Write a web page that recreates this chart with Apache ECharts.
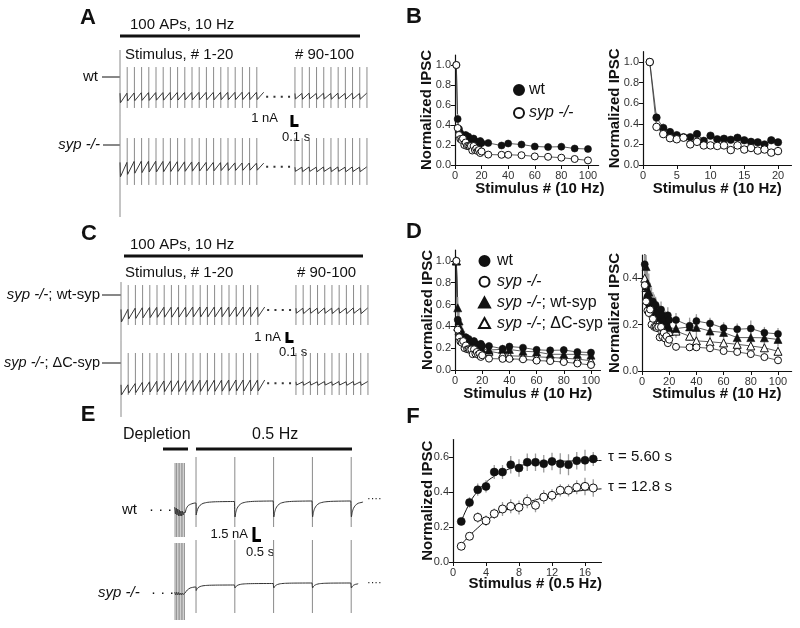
<!DOCTYPE html>
<html><head><meta charset="utf-8">
<script src="https://cdn.jsdelivr.net/npm/echarts@6/dist/echarts.min.js"></script>
<style>html,body{margin:0;padding:0;background:#fff}#c{width:800px;height:628px}</style>
</head><body><div id="c"></div>
<script>
// ================= DATA =================
// Panels B & D: normalized IPSC vs stimulus number (10 Hz train)
const stimX = [1,2,3,4,5,6,7,8,9,10,11,12,13,14,15,16,17,18,19,20,25,35,40,50,60,70,80,90,100];
const wtVals = [1.0,0.46,0.36,0.32,0.29,0.27,0.27,0.30,0.235,0.285,0.25,0.255,0.245,0.265,0.24,0.225,0.22,0.20,0.24,0.22,0.22,0.195,0.215,0.205,0.185,0.18,0.183,0.165,0.16];
const wtErr  = [0,0.05,0.04,0.04,0.035,0.03,0.03,0.035,0.03,0.03,0.03,0.03,0.03,0.035,0.03,0.03,0.03,0.03,0.035,0.03,0.03,0.025,0.03,0.025,0.025,0.025,0.035,0.025,0.025];
const sypVals = [1.0,0.37,0.30,0.26,0.25,0.265,0.20,0.225,0.19,0.19,0.185,0.19,0.145,0.19,0.15,0.165,0.14,0.15,0.12,0.135,0.104,0.102,0.102,0.098,0.086,0.082,0.073,0.06,0.046];
const sypErr  = [0,0.03,0.025,0.02,0.02,0.02,0.02,0.02,0.02,0.015,0.015,0.015,0.015,0.015,0.015,0.015,0.015,0.015,0.015,0.015,0.012,0.012,0.012,0.012,0.012,0.012,0.012,0.012,0.012];
const wtSypVals = [1.0,0.57,0.45,0.38,0.34,0.31,0.29,0.28,0.27,0.26,0.25,0.24,0.235,0.23,0.22,0.215,0.21,0.20,0.195,0.186,0.183,0.19,0.188,0.172,0.166,0.144,0.144,0.143,0.136];
const wtSypErr  = [0,0.1,0.1,0.09,0.08,0.07,0.07,0.06,0.06,0.06,0.05,0.05,0.05,0.05,0.05,0.05,0.05,0.05,0.05,0.05,0.04,0.04,0.05,0.04,0.04,0.04,0.05,0.04,0.03];
const dcSypVals = [1.0,0.40,0.36,0.33,0.31,0.29,0.28,0.27,0.26,0.25,0.24,0.23,0.22,0.21,0.20,0.19,0.185,0.18,0.175,0.17,0.172,0.15,0.13,0.126,0.121,0.115,0.108,0.10,0.085];
const dcSypErr  = [0,0.05,0.05,0.04,0.04,0.04,0.035,0.035,0.03,0.03,0.03,0.03,0.03,0.03,0.03,0.03,0.03,0.03,0.03,0.03,0.02,0.02,0.02,0.02,0.02,0.02,0.02,0.02,0.02];

// Panel F: recovery at 0.5 Hz
const recX = [1,2,3,4,5,6,7,8,9,10,11,12,13,14,15,16,17];
const recWt = [0.232,0.34,0.413,0.432,0.514,0.514,0.556,0.537,0.57,0.57,0.562,0.575,0.562,0.556,0.579,0.581,0.589];
const recWtErr = [0.02,0.03,0.035,0.035,0.04,0.04,0.05,0.05,0.05,0.05,0.05,0.05,0.06,0.06,0.05,0.06,0.04];
const recSyp = [0.09,0.147,0.255,0.236,0.276,0.303,0.318,0.312,0.347,0.324,0.371,0.381,0.41,0.41,0.427,0.432,0.423];
const recSypErr = [0.02,0.02,0.03,0.03,0.03,0.04,0.04,0.04,0.04,0.04,0.04,0.035,0.035,0.035,0.04,0.05,0.05];
const fitX = [1,2,3,4,5,6,7,8,9,10,12,14,16,18];
const fitWt = [0.232,0.335,0.405,0.455,0.49,0.515,0.535,0.55,0.558,0.565,0.573,0.577,0.579,0.58];
const fitSyp = [0.10,0.15,0.195,0.235,0.265,0.29,0.305,0.32,0.34,0.355,0.38,0.398,0.41,0.418];
const tauLabels = ['\u03c4 = 5.60 s', '\u03c4 = 12.8 s'];

// Tick values
const ticksX100 = [0,20,40,60,80,100];
const ticksX20 = [0,5,10,15,20];
const ticksX16 = [0,4,8,12,16];
const ticksY10 = [0,0.2,0.4,0.6,0.8,1.0];
const ticksY04 = [0,0.2,0.4];
const ticksY06 = [0,0.2,0.4,0.6];

// Panels A & C: example traces (nA, relative to trace top level), stimulus display times (s)
const trainT1 = [0,0.1,0.2,0.3,0.4,0.5,0.6,0.7,0.8,0.9,1.0,1.1,1.2,1.3,1.4,1.5,1.6,1.7,1.8,1.9];
const trainT2 = [2.43,2.53,2.63,2.73,2.83,2.93,3.03,3.13,3.23,3.33,3.43];
const dotsT = [2.03, 2.375];
const aWtTr1 = [-0.9,-0.75,-0.72,-0.7,-0.7,-0.68,-0.68,-0.67,-0.67,-0.66,-0.66,-0.65,-0.65,-0.65,-0.64,-0.64,-0.64,-0.63,-0.63,-0.63];
const aWtPk1 = [-0.1,-0.08,-0.06,-0.05,-0.05,-0.05,-0.04,-0.04,-0.04,-0.04,-0.03,-0.03,-0.03,-0.03,-0.03,-0.03,-0.02,-0.02,-0.02,-0.02];
const aWtTr2 = [-0.58,-0.6,-0.57,-0.6,-0.58,-0.6,-0.57,-0.6,-0.58,-0.6];
const aWtPk2 = [-0.12,-0.1,-0.12,-0.1,-0.12,-0.1,-0.12,-0.1,-0.12,-0.1];
const aWtArt = [2.08,-1.33], aWtArtFirst = [3.5,-2.0], aWtDots = -0.39;
const aSypTr1 = [-1.4,-1.2,-1.1,-1.05,-1.0,-1.0,-0.98,-0.96,-0.95,-0.94,-0.93,-0.92,-0.9,-0.9,-0.88,-0.88,-0.87,-0.86,-0.85,-0.85];
const aSypPk1 = [-0.2,-0.12,-0.1,-0.1,-0.1,-0.12,-0.12,-0.14,-0.15,-0.16,-0.18,-0.2,-0.2,-0.22,-0.22,-0.24,-0.25,-0.25,-0.26,-0.26];
const aSypTr2 = [-0.95,-0.97,-0.95,-0.98,-0.95,-0.97,-0.95,-0.98,-0.96,-0.97];
const aSypPk2 = [-0.6,-0.58,-0.6,-0.58,-0.6,-0.58,-0.6,-0.58,-0.6,-0.58];
const aSypArt = [1.83,-2.08], aSypArtFirst = [3.67,-4.75], aSypDots = -0.56;
const cWtTr1 = [-1.25,-1.0,-0.95,-0.9,-0.88,-0.86,-0.85,-0.85,-0.84,-0.84,-0.83,-0.83,-0.82,-0.82,-0.81,-0.81,-0.8,-0.8,-0.8,-0.8];
const cWtPk1 = [-0.2,-0.1,-0.06,-0.04,-0.03,-0.02,-0.02,-0.01,-0.01,0,0,0,0,0,0,0,0,0,0,0];
const cWtTr2 = [-0.52,-0.55,-0.52,-0.55,-0.52,-0.55,-0.52,-0.55,-0.52,-0.55];
const cWtPk2 = [-0.1,-0.08,-0.1,-0.08,-0.1,-0.08,-0.1,-0.08,-0.1,-0.08];
const cWtArt = [1.83,-1.5], cWtArtFirst = [2.08,-2.75], cWtDots = -0.25;
const cDcTr1 = [-1.25,-1.1,-1.05,-1.0,-1.0,-0.98,-0.97,-0.96,-0.96,-0.95,-0.95,-0.95,-0.94,-0.94,-0.93,-0.93,-0.92,-0.92,-0.92,-0.92];
const cDcPk1 = [-0.4,-0.3,-0.2,-0.15,-0.1,-0.08,-0.06,-0.05,-0.04,-0.03,-0.02,-0.02,-0.01,-0.01,0,0,0,0,0,0];
const cDcTr2 = [-0.42,-0.44,-0.42,-0.44,-0.42,-0.44,-0.42,-0.44,-0.42,-0.44];
const cDcPk2 = [-0.15,-0.13,-0.15,-0.13,-0.15,-0.13,-0.15,-0.13,-0.15,-0.13];
const cDcArt = [2.25,-1.25], cDcArtFirst = [3.33,-3.08], cDcDots = -0.28;

// Panel E: depletion then 0.5 Hz test pulses (s, nA)
const eTestT = [0,2,4,6,8];
const eBurstT = [-1.08,-1.0,-0.92,-0.84,-0.76,-0.68,-0.6];
const eWtArt = [4.4,-2.6], eWtBurstArt = [3.8,-3.6];
const eSypArt = [4.3,-3.0], eSypBurstArt = [4.0,-3.7];
const eWtLead = [[-1.1,-0.6],[-1.06,-1.3],[-1.02,-0.7],[-0.98,-1.4],[-0.94,-0.8],[-0.9,-1.5],[-0.86,-0.9],[-0.82,-1.5],[-0.78,-1.0],[-0.74,-1.5],[-0.7,-1.0],[-0.66,-1.4],[-0.62,-1.1],[-0.57,-1.2],[-0.5,-0.75],[-0.4,-0.45],[-0.25,-0.3],[-0.05,-0.2]];
const eSypLead = [[-1.1,-0.9],[-1.05,-1.2],[-1.0,-0.9],[-0.95,-1.2],[-0.9,-0.95],[-0.85,-1.2],[-0.8,-1.0],[-0.75,-1.2],[-0.7,-1.0],[-0.65,-1.15],[-0.57,-1.0],[-0.45,-0.7],[-0.3,-0.5],[-0.05,-0.4]];
const eWtDip = [-1.4,-1.6,-1.6,-1.6,-1.6], eWtRest = [-0.05,0,0,0,0];
const eSypDip = [-0.75,-0.5,-0.5,-0.5,-0.5], eSypRest = [-0.2,-0.05,0,0,0];
const eRecShape = [[0,1],[0.04,0.72],[0.1,0.48],[0.2,0.28],[0.35,0.14],[0.6,0.06],[1.0,0.02],[1.97,0]];
const eEndDur = [0.6, 0.35];

// ================= CHART =================
const FONT = '"Liberation Sans", Arial, Helvetica, sans-serif';
const INK = '#111';
const chart = echarts.init(document.getElementById('c'));

const gridDefs = [
  [455, 55, 143.6, 110],     // 0 B1
  [643, 51.7, 148.5, 113.3], // 1 B2
  [455, 250, 145.5, 120],    // 2 D1
  [642, 255, 149.6, 116],    // 3 D2
  [453, 439.5, 148.5, 122.5],// 4 F
  [112.8, 48, 259.2, 68],    // 5 A wt
  [112.8, 116, 259.2, 104],  // 6 A syp
  [113.8, 280, 259.2, 60],   // 7 C wt-syp
  [113.8, 340, 259.2, 82],   // 8 C dC-syp
  [161.1, 452, 209.5, 88],   // 9 E wt
  [161.1, 540, 209.5, 82]    // 10 E syp
];
const grid = gridDefs.map(g => ({left:g[0], top:g[1], width:g[2], height:g[3], containLabel:false, outerBoundsMode:'none'}));

function xAx(gi, min, max, ticks, name, pad, gap) {
  return {type:'value', gridIndex:gi, min, max, name, nameLocation:'middle', nameGap:gap, nameMoveOverlap:false,
    nameTextStyle:{fontFamily:FONT, fontWeight:'bold', fontSize:15, color:INK, padding:[0,0,0,pad||0]},
    axisLine:{show:true, onZero:false, lineStyle:{color:INK, width:1.2}},
    axisTick:{show:true, length:4, customValues:ticks, lineStyle:{color:INK}},
    axisLabel:{customValues:ticks, fontFamily:FONT, fontSize:11, color:'#333', margin:5,
      formatter: v => ticks.indexOf(v) >= 0 ? String(v) : ''},
    splitLine:{show:false}};
}
function yAx(gi, min, max, ticks, gap) {
  return {type:'value', gridIndex:gi, min, max, name:'Normalized IPSC', nameLocation:'middle', nameGap:gap, nameMoveOverlap:false,
    nameTextStyle:{fontFamily:FONT, fontWeight:'bold', fontSize:15, color:INK},
    axisLine:{show:true, onZero:false, lineStyle:{color:INK, width:1.2}},
    axisTick:{show:true, length:4, customValues:ticks, lineStyle:{color:INK}},
    axisLabel:{customValues:ticks, fontFamily:FONT, fontSize:11, color:'#333', margin:4,
      formatter: v => ticks.some(t => Math.abs(t - v) < 1e-9) ? v.toFixed(1) : ''},
    splitLine:{show:false}};
}
function hidAx(gi, min, max) { return {type:'value', gridIndex:gi, min, max, show:false, axisLine:{onZero:false}, splitLine:{show:false}}; }

const xAxis = [
  xAx(0, 0, 108, ticksX100, 'Stimulus # (10 Hz)', 26, 16.5),
  xAx(1, 0, 22, ticksX20, 'Stimulus # (10 Hz)', 0, 16.5),
  xAx(2, 0, 107, ticksX100, 'Stimulus # (10 Hz)', 0, 16.5),
  xAx(3, 0, 110, ticksX100, 'Stimulus # (10 Hz)', 0, 15.5),
  xAx(4, 0, 18, ticksX16, 'Stimulus # (0.5 Hz)', 16, 14.5),
  hidAx(5, -0.1, 3.5), hidAx(6, -0.1, 3.5), hidAx(7, -0.1, 3.5), hidAx(8, -0.1, 3.5),
  hidAx(9, -1.8, 9), hidAx(10, -1.8, 9)
];
const yAxis = [
  yAx(0, 0, 1.1, ticksY10, 21), yAx(1, 0, 1.1, ticksY10, 21), yAx(2, 0, 1.1, ticksY10, 20),
  yAx(3, 0, 0.5, ticksY04, 20), yAx(4, 0, 0.7, ticksY06, 18),
  hidAx(5, -2.0, 3.667), hidAx(6, -5.0, 3.667), hidAx(7, -2.75, 2.25), hidAx(8, -3.5, 3.333),
  hidAx(9, -3.9, 4.9), hidAx(10, -3.9, 4.3)
];

function errRender(params, api) {
  const x = api.value(0), y = api.value(1), e = api.value(2);
  if (!e) return null;
  const p1 = api.coord([x, y - e]), p2 = api.coord([x, y + e]);
  return {type:'line', shape:{x1:p1[0], y1:p1[1], x2:p2[0], y2:p2[1]}, style:{stroke:'#9a9a9a', lineWidth:1.3}};
}
function vRender(color) {
  return function (params, api) {
    const a = api.coord([api.value(0), api.value(1)]), b = api.coord([api.value(0), api.value(2)]);
    return {type:'line', shape:{x1:a[0], y1:a[1], x2:b[0], y2:b[1]}, style:{stroke:color, lineWidth:1}};
  };
}
const series = [];
function markerStyle(filled) {
  return filled ? {color:INK, borderColor:INK, borderWidth:0.6, opacity:1} : {color:'#fff', borderColor:INK, borderWidth:1, opacity:1};
}
function group(gi, name, xs, ys, es, symbol, filled, size, zM, withLine) {
  const pts = xs.map((x, i) => [x, ys[i]]);
  if (withLine) series.push({type:'line', xAxisIndex:gi, yAxisIndex:gi, data:pts, symbol:'none', clip:true,
    lineStyle:{color:'#333', width:0.8}, z:2, silent:true});
  series.push({type:'custom', xAxisIndex:gi, yAxisIndex:gi, data:xs.map((x, i) => [x, ys[i], es[i]]),
    encode:{x:0, y:1}, renderItem:errRender, clip:true, z:3, silent:true});
  series.push({type:'scatter', name, xAxisIndex:gi, yAxisIndex:gi, data:pts, symbol, symbolSize:size, clip:true,
    itemStyle:markerStyle(filled), z:zM, silent:true});
}
const n20 = 20;
// B1
group(0, 'wt', stimX, wtVals, wtErr, 'circle', true, 7, 4, true);
group(0, 'syp -/-', stimX, sypVals, sypErr, 'circle', false, 7, 5, true);
// B2
group(1, 'wt', stimX.slice(0, n20), wtVals.slice(0, n20), wtErr.slice(0, n20), 'circle', true, 7.5, 4, true);
group(1, 'syp -/-', stimX.slice(0, n20), sypVals.slice(0, n20), sypErr.slice(0, n20), 'circle', false, 7.5, 5, true);
// D1 & D2
[2, 3].forEach(gi => {
  group(gi, 'syp -/-; \u0394C-syp', stimX, dcSypVals, dcSypErr, 'triangle', false, 8, 4, true);
  group(gi, 'syp -/-; wt-syp', stimX, wtSypVals, wtSypErr, 'triangle', true, 8, 4, true);
  group(gi, 'wt', stimX, wtVals, wtErr, 'circle', true, 7, 5, true);
  group(gi, 'syp -/-', stimX, sypVals, sypErr, 'circle', false, 7, 6, true);
});
// F
series.push({type:'line', xAxisIndex:4, yAxisIndex:4, data:fitX.map((x, i) => [x, fitWt[i]]), smooth:true, symbol:'none', lineStyle:{color:INK, width:1}, z:2, silent:true});
series.push({type:'line', xAxisIndex:4, yAxisIndex:4, data:fitX.map((x, i) => [x, fitSyp[i]]), smooth:true, symbol:'none', lineStyle:{color:INK, width:1}, z:2, silent:true});
group(4, 'wt', recX, recWt, recWtErr, 'circle', true, 8, 4, false);
group(4, 'syp -/-', recX, recSyp, recSypErr, 'circle', false, 8, 5, false);

// ---- traces ----
function trainPoints(times, troughs, peaks, start) {
  const pts = []; let prev = start;
  troughs.forEach((tr, i) => { const t = times[i]; pts.push([t, prev], [t + 0.006, tr], [t + 0.096, peaks[i]]); prev = peaks[i]; });
  if (times.length > troughs.length) pts.push([times[times.length - 1], prev]);
  return pts;
}
function addTrain(gi, tr1, pk1, tr2, pk2, art, artFirst, dotsY) {
  const arts = trainT1.map((t, i) => i === 0 ? [t, artFirst[0], artFirst[1]] : [t, art[0], art[1]])
    .concat(trainT2.map(t => [t, art[0], art[1]]));
  series.push({type:'custom', xAxisIndex:gi, yAxisIndex:gi, data:arts, encode:{x:0, y:1}, renderItem:vRender('#8a8a8a'), z:2, silent:true});
  series.push({type:'line', xAxisIndex:gi, yAxisIndex:gi, data:trainPoints(trainT1, tr1, pk1, pk1[0]), symbol:'none', lineStyle:{color:'#3a3a3a', width:1}, z:3, silent:true});
  series.push({type:'line', xAxisIndex:gi, yAxisIndex:gi, data:trainPoints(trainT2, tr2, pk2, pk2[0]), symbol:'none', lineStyle:{color:'#3a3a3a', width:1}, z:3, silent:true});
  series.push({type:'line', xAxisIndex:gi, yAxisIndex:gi, data:dotsT.map(t => [t, dotsY]), symbol:'none', lineStyle:{color:'#333', width:2, type:[2, 5.3]}, z:3, silent:true});
}
addTrain(5, aWtTr1, aWtPk1, aWtTr2, aWtPk2, aWtArt, aWtArtFirst, aWtDots);
addTrain(6, aSypTr1, aSypPk1, aSypTr2, aSypPk2, aSypArt, aSypArtFirst, aSypDots);
addTrain(7, cWtTr1, cWtPk1, cWtTr2, cWtPk2, cWtArt, cWtArtFirst, cWtDots);
addTrain(8, cDcTr1, cDcPk1, cDcTr2, cDcPk2, cDcArt, cDcArtFirst, cDcDots);

function recoveryPoints(lead, tests, dips, rests, shape, endDur) {
  const pts = lead.slice(); let prev = lead[lead.length - 1][1];
  tests.forEach((t, k) => {
    pts.push([t, prev]);
    const dur = k < tests.length - 1 ? 1.98 : endDur;
    shape.forEach(([dt, f]) => { if (dt <= dur) pts.push([t + 0.01 + dt, rests[k] + (dips[k] - rests[k]) * f]); });
    if (k === tests.length - 1) pts.push([t + dur, rests[k] + (dips[k] - rests[k]) * 0.05]);
    prev = pts[pts.length - 1][1];
  });
  return pts;
}
function addRecovery(gi, lead, dips, rests, art, burstArt, endDur) {
  const arts = eBurstT.map(t => [t, burstArt[0], burstArt[1]]).concat(eTestT.map(t => [t, art[0], art[1]]));
  series.push({type:'custom', xAxisIndex:gi, yAxisIndex:gi, data:arts, encode:{x:0, y:1}, renderItem:vRender('#8a8a8a'), z:2, silent:true});
  series.push({type:'line', xAxisIndex:gi, yAxisIndex:gi, data:recoveryPoints(lead, eTestT, dips, rests, eRecShape, endDur), symbol:'none', smooth:0.2, lineStyle:{color:'#333', width:1}, z:3, silent:true});
}
addRecovery(9, eWtLead, eWtDip, eWtRest, eWtArt, eWtBurstArt, eEndDur[0]);
addRecovery(10, eSypLead, eSypDip, eSypRest, eSypArt, eSypBurstArt, eEndDur[1]);

// ---- legends ----
const legRich = {i:{fontStyle:'italic', fontSize:16, fontFamily:FONT, color:INK}};
const legFmt = n => n.replace('syp -/-', '{i|syp -/-}');
const legend = [
  {left:513, top:82, padding:0, orient:'vertical', itemWidth:10, itemHeight:10, itemGap:7, selectedMode:false,
   data:['wt', 'syp -/-'], formatter:legFmt,
   textStyle:{fontFamily:FONT, fontSize:16, color:INK, rich:legRich}},
  {left:478, top:253, padding:0, orient:'vertical', itemWidth:11, itemHeight:10, itemGap:4.7, selectedMode:false,
   data:['wt', 'syp -/-', 'syp -/-; wt-syp', 'syp -/-; \u0394C-syp'], formatter:legFmt,
   textStyle:{fontFamily:FONT, fontSize:16, color:INK, padding:[0,0,0,2], rich:legRich}}
];

// ---- annotations ----
function txt(x, y, text, size, o) {
  o = o || {};
  const st = {text, fill:INK, font:(o.italic ? 'italic ' : '') + (o.bold ? 'bold ' : '') + size + 'px ' + FONT,
    align:o.align || 'left', verticalAlign:'middle'};
  if (o.rich) st.rich = o.rich;
  return {type:'text', x, y, silent:true, style:st};
}
function ln(x1, y1, x2, y2, w) { return {type:'line', silent:true, shape:{x1, y1, x2, y2}, style:{stroke:INK, lineWidth:w || 1}}; }
function ell(pts) { return {type:'polyline', silent:true, shape:{points:pts}, style:{stroke:'#000', lineWidth:3, fill:null}}; }
const ital = {i:{fontStyle:'italic', fontSize:15, fontFamily:FONT, fill:INK}};
const ital14 = {i:{fontStyle:'italic', fontSize:14.5, fontFamily:FONT, fill:INK}};
const graphic = [
  txt(88, 18, 'A', 22, {bold:true, align:'center'}), txt(414, 17, 'B', 22, {bold:true, align:'center'}),
  txt(89, 234, 'C', 22, {bold:true, align:'center'}), txt(414, 232, 'D', 22, {bold:true, align:'center'}),
  txt(88, 415, 'E', 22, {bold:true, align:'center'}), txt(413, 417, 'F', 22, {bold:true, align:'center'}),
  // A
  txt(130, 25, '100 APs, 10 Hz', 15), ln(120, 36, 360, 36, 3),
  txt(125, 55, 'Stimulus, # 1-20', 15), txt(295, 55, '# 90-100', 15),
  txt(98, 77, 'wt', 15, {align:'right'}), ln(102, 77, 120, 77),
  txt(100, 145, 'syp -/-', 15, {align:'right', italic:true}), ln(103, 145, 120, 145),
  ell([[292, 115], [292, 125.5], [298.5, 125.5]]),
  txt(278, 118, '1 nA', 13, {align:'right'}), txt(282, 137, '0.1 s', 13),
  // C
  txt(130, 245, '100 APs, 10 Hz', 15), ln(124, 256, 363, 256, 3),
  txt(125, 273, 'Stimulus, # 1-20', 15), txt(297, 273, '# 90-100', 15),
  txt(100, 295, '{i|syp -/-}; wt-syp', 15, {align:'right', rich:ital}), ln(102, 295, 121, 295),
  txt(100, 363, '{i|syp -/-}; \u0394C-syp', 14.5, {align:'right', rich:ital14}), ln(102, 363, 121, 363),
  ell([[287, 332], [287, 341.5], [293.5, 341.5]]),
  txt(281, 337, '1 nA', 13, {align:'right'}), txt(279, 352, '0.1 s', 13),
  // E
  txt(123, 435, 'Depletion', 16), txt(252, 435, '0.5 Hz', 16),
  ln(163, 449, 188, 449, 3), ln(196, 449, 352, 449, 3),
  txt(122, 510, 'wt', 15), txt(149, 510, '\u00b7 \u00b7 \u00b7', 15),
  txt(98, 593, 'syp -/-', 15, {italic:true}), txt(151, 593, '\u00b7 \u00b7 \u00b7', 15),
  txt(367, 499, '\u00b7\u00b7\u00b7\u00b7', 11), txt(367, 583, '\u00b7\u00b7\u00b7\u00b7', 11),
  ell([[254, 527], [254, 540.5], [261, 540.5]]),
  txt(248, 534, '1.5 nA', 13, {align:'right'}), txt(246, 552, '0.5 s', 13),
  // F tau labels
  txt(608, 457, tauLabels[0], 15), txt(608, 487, tauLabels[1], 15)
];

chart.setOption({animation:false, backgroundColor:'#fff', grid, xAxis, yAxis, series, legend, graphic});
</script>
</body></html>
